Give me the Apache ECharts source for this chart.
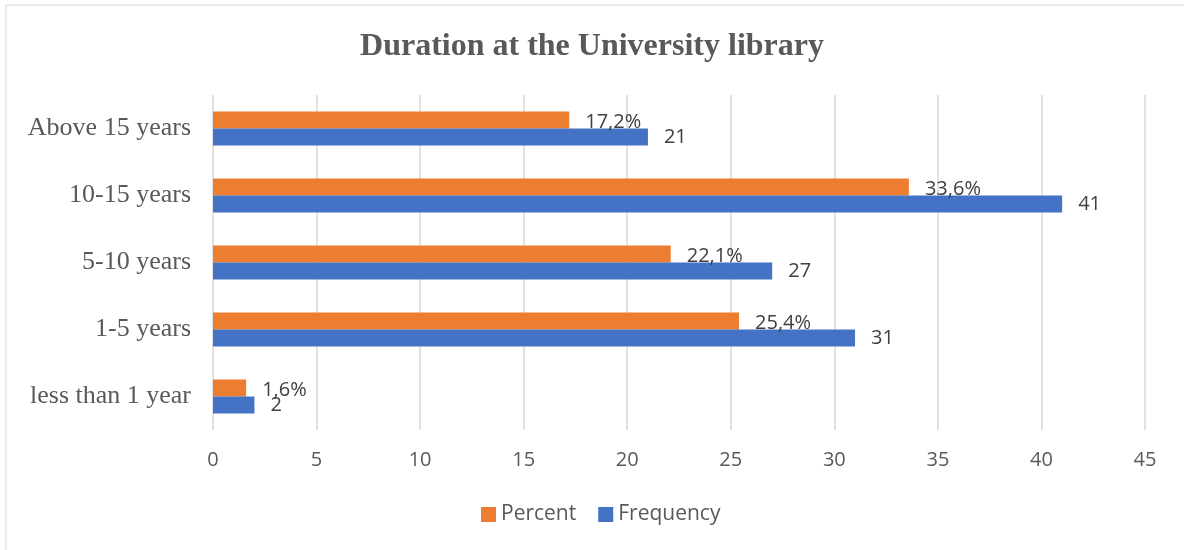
<!DOCTYPE html>
<html>
<head>
<meta charset="utf-8">
<script src="https://cdn.jsdelivr.net/npm/echarts@6/dist/echarts.min.js"></script>
<style>
html,body{margin:0;padding:0;background:#fff;}
#chart{width:1184px;height:550px;}
</style>
</head>
<body>
<div id="chart"></div>
<script>
const categories = ['less than 1 year', '1-5 years', '5-10 years', '10-15 years', 'Above 15 years'];
const percentValues = [1.6, 25.4, 22.1, 33.6, 17.2];
const frequencyValues = [2, 31, 27, 41, 21];
const xTicks = { min: 0, max: 45, interval: 5 };

const sans = '"Open Sans", Lato, sans-serif';
const serif = '"Liberation Serif", "DejaVu Serif", serif';
const grey = '#595959';

const chart = echarts.init(document.getElementById('chart'));
chart.setOption({
  animation: false,
  backgroundColor: '#fff',
  graphic: [{
    type: 'rect',
    shape: { x: 6, y: 5, width: 1200, height: 600 },
    style: { fill: 'none', stroke: '#d9d9d9', lineWidth: 1 },
    silent: true
  }],
  title: {
    text: 'Duration at the University library',
    left: 'center',
    top: 26,
    textStyle: { fontFamily: serif, fontSize: 32, fontWeight: 'bold', color: grey }
  },
  legend: {
    data: ['Percent', 'Frequency'],
    bottom: 25,
    left: 481,
    padding: 0,
    itemWidth: 15,
    itemHeight: 15,
    itemGap: 22,
    icon: 'rect',
    textStyle: { fontFamily: sans, fontSize: 21, color: grey }
  },
  grid: { left: 213, right: 39, top: 95, bottom: 120, containLabel: false },
  xAxis: {
    type: 'value',
    min: xTicks.min, max: xTicks.max, interval: xTicks.interval,
    axisLine: { show: false },
    axisTick: { show: false },
    splitLine: { show: true, lineStyle: { color: '#d9d9d9', width: 1.5 } },
    axisLabel: { fontFamily: sans, fontSize: 20, color: grey, margin: 20 }
  },
  yAxis: {
    type: 'category',
    data: categories,
    axisLine: { show: false },
    axisTick: { show: false },
    axisLabel: { fontFamily: serif, fontSize: 26, color: grey, margin: 22 }
  },
  series: [
    {
      name: 'Percent',
      type: 'bar',
      data: percentValues,
      barWidth: 17,
      barGap: '0%',
      itemStyle: { color: '#ED7D31' },
      label: {
        show: true, position: 'right', distance: 16, offset: [0, 2],
        fontFamily: sans, fontSize: 20, color: '#404040',
        formatter: p => String(p.value).replace('.', ',') + '%'
      }
    },
    {
      name: 'Frequency',
      type: 'bar',
      data: frequencyValues,
      barWidth: 17,
      barGap: '0%',
      itemStyle: { color: '#4472C4' },
      label: {
        show: true, position: 'right', distance: 16,
        fontFamily: sans, fontSize: 20, color: '#404040'
      }
    }
  ]
});
</script>
</body>
</html>
